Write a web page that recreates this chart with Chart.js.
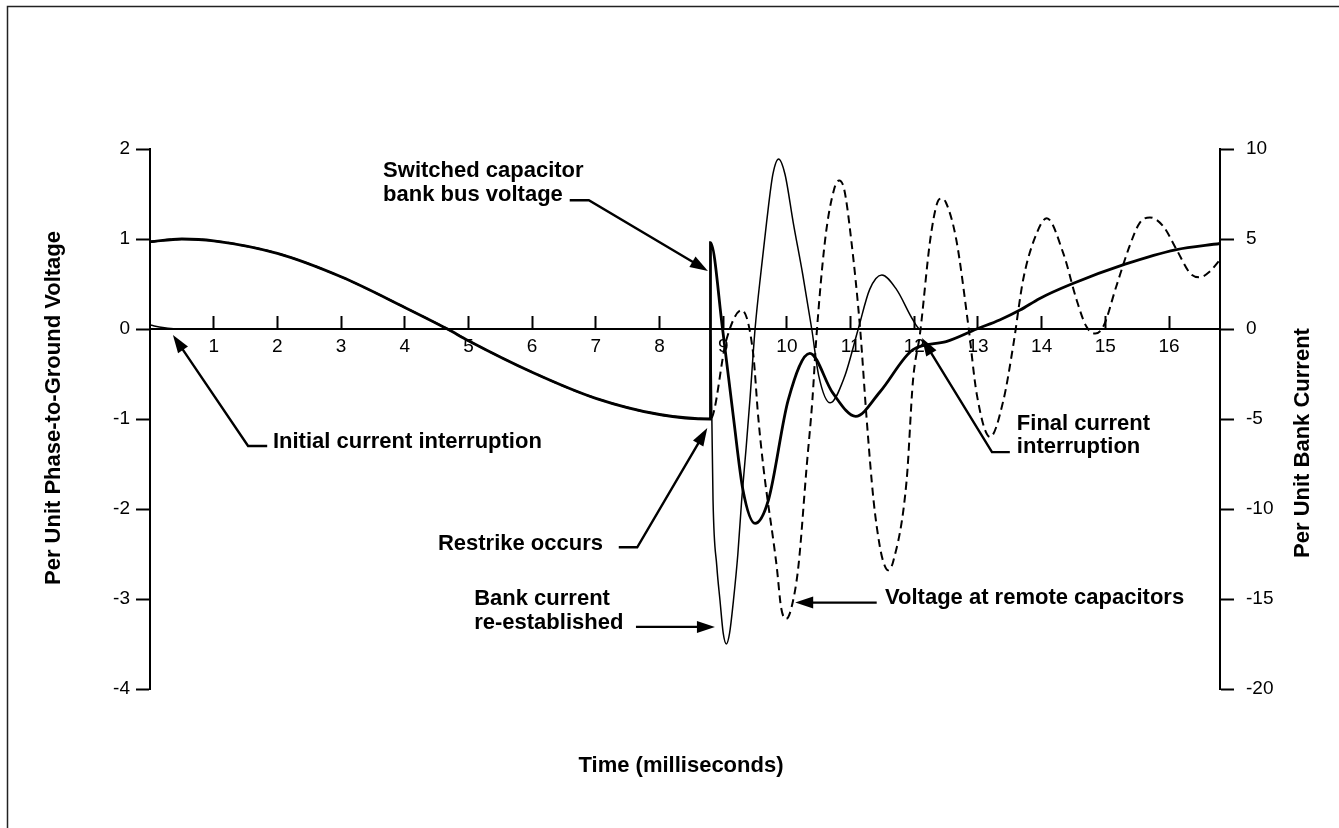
<!DOCTYPE html>
<html>
<head>
<meta charset="utf-8">
<title>Restrike</title>
<script src="https://cdn.jsdelivr.net/npm/chart.js@4.4.1/dist/chart.umd.min.js"></script>
<style>
    html, body { margin: 0; padding: 0; background: #fff; }
    #contenedor { width: 1339px; height: 828px; }
</style>
</head>
<body>
<div id="contenedor"><canvas id="graficoRestrike" width="1339" height="828"></canvas></div>
<script>
// tiempo en ms, tension en por unidad (eje izquierdo)
const tiempoBarra = [0, 0.5, 1, 2, 3, 4, 4.67, 5, 6, 7, 8, 8.8, 8.8, 8.99, 9.16, 9.31, 9.5, 9.71, 10.02, 10.36, 10.72, 11.08, 11.46, 11.98, 12.5, 12.98, 13.34, 13.66, 13.97, 14.47, 15.31, 16.1, 16.8];
const tensionBarra = [0.97, 1.0, 0.98, 0.84, 0.58, 0.24, 0, -0.13, -0.48, -0.77, -0.95, -1.0, 0.96, 0.0, -0.98, -1.79, -2.16, -1.90, -0.79, -0.27, -0.71, -0.97, -0.70, -0.23, -0.14, 0.0, 0.10, 0.21, 0.34, 0.50, 0.72, 0.88, 0.95];

// corriente del banco en por unidad (eje derecho)
const tiempoCorriente = [0, 0.2, 0.4, 8.8, 8.82, 8.84, 8.9, 8.95, 9.0, 9.05, 9.1, 9.16, 9.23, 9.29, 9.36, 9.42, 9.5, 9.6, 9.68, 9.78, 9.87, 9.97, 10.1, 10.25, 10.39, 10.5, 10.68, 10.9, 11.12, 11.3, 11.49, 11.72, 11.98, 12.09, 16.8];
const corrienteBanco = [0.22, 0.08, 0, 0, -4.5, -9.5, -13.2, -15.1, -16.9, -17.5, -16.9, -15.1, -12.5, -9.5, -6.6, -3.9, 0, 3.4, 5.9, 8.6, 9.45, 8.6, 5.9, 3.0, 0, -2.6, -4.1, -2.7, 0, 2.2, 3.0, 2.2, 0.5, 0, 0];

// tension en los capacitores remotos (eje izquierdo)
const tiempoRemoto = [0, 0.5, 1, 2, 3, 4, 4.67, 5, 6, 7, 8, 8.8, 9.05, 9.29, 9.47, 9.55, 9.63, 9.84, 9.91, 9.99, 10.07, 10.18, 10.31, 10.40, 10.46, 10.6, 10.74, 10.82, 10.9, 11.01, 11.15, 11.25, 11.36, 11.46, 11.52, 11.59, 11.67, 11.88, 11.98, 12.09, 12.25, 12.36, 12.43, 12.5, 12.66, 12.85, 12.98, 13.19, 13.4, 13.55, 13.71, 13.92, 14.08, 14.34, 14.55, 14.7, 14.84, 14.97, 15.17, 15.38, 15.54, 15.70, 15.91, 16.12, 16.33, 16.48, 16.64, 16.8];
const tensionRemota = [0.97, 1.0, 0.98, 0.84, 0.58, 0.24, 0, -0.13, -0.48, -0.77, -0.95, -1.0, -0.12, 0.21, -0.27, -0.98, -1.53, -2.64, -3.1, -3.22, -3.1, -2.64, -1.53, -0.79, -0.12, 0.99, 1.55, 1.65, 1.55, 0.99, 0, -0.98, -1.9, -2.42, -2.6, -2.68, -2.58, -1.68, -0.57, -0.05, 0.99, 1.4, 1.45, 1.4, 0.99, 0.03, -0.72, -1.2, -0.79, -0.2, 0.55, 1.06, 1.23, 0.84, 0.32, 0.03, -0.05, 0.03, 0.47, 0.92, 1.18, 1.24, 1.14, 0.88, 0.62, 0.575, 0.64, 0.77];

const marcasTiempo = [1, 2, 3, 4, 5, 6, 7, 8, 9, 10, 11, 12, 13, 14, 15, 16];
const marcasTension = [-4, -3, -2, -1, 0, 1, 2];
const marcasCorriente = [-20, -15, -10, -5, 0, 5, 10];

// textos con flecha, en unidades de los ejes (tiempo, tension)
const notas = [
    { x: 3.66, lineas: [['Switched capacitor', 1.69], ['bank bus voltage', 1.424]], ruta: [[6.59, 1.43], [6.89, 1.43], [8.76, 0.645]] },
    { x: 1.93, lineas: [['Initial current interruption', -1.324]], ruta: [[1.84, -1.30], [1.54, -1.30], [0.36, -0.067]] },
    { x: 4.52, lineas: [['Restrike occurs', -2.45]], ruta: [[7.36, -2.425], [7.65, -2.425], [8.75, -1.10]] },
    { x: 5.09, lineas: [['Bank current', -3.07], ['re-established', -3.337]], ruta: [[7.63, -3.31], [8.87, -3.31]] },
    { x: 11.54, lineas: [['Voltage at remote capacitors', -3.06]], ruta: [[11.41, -3.04], [10.13, -3.04]] },
    { x: 13.61, lineas: [['Final current', -1.123], ['interruption', -1.379]], ruta: [[13.50, -1.368], [13.22, -1.368], [12.12, -0.10]] }
];

const fuente = '"Liberation Sans", Arial, Helvetica, sans-serif';

function puntos(xs, ys) {
    return xs.map(function (t, i) { return { x: t, y: ys[i] }; });
}

function flecha(ctx, pts) {
    const n = pts.length;
    const x2 = pts[n - 1][0], y2 = pts[n - 1][1];
    const x1 = pts[n - 2][0], y1 = pts[n - 2][1];
    const ang = Math.atan2(y2 - y1, x2 - x1);
    const largo = 18, ancho = 6;
    const bx = x2 - largo * Math.cos(ang);
    const by = y2 - largo * Math.sin(ang);

    ctx.lineWidth = 2.4;
    ctx.beginPath();
    ctx.moveTo(pts[0][0], pts[0][1]);
    for (let i = 1; i < n - 1; i++) {
        ctx.lineTo(pts[i][0], pts[i][1]);
    }
    ctx.lineTo(bx + 4 * Math.cos(ang), by + 4 * Math.sin(ang));
    ctx.stroke();

    ctx.beginPath();
    ctx.moveTo(x2, y2);
    ctx.lineTo(bx + ancho * Math.sin(ang), by - ancho * Math.cos(ang));
    ctx.lineTo(bx - ancho * Math.sin(ang), by + ancho * Math.cos(ang));
    ctx.closePath();
    ctx.fill();
}

const extras = {
    id: 'extras',
    beforeDraw: function (chart) {
        const ctx = chart.ctx;
        ctx.save();
        ctx.fillStyle = '#fff';
        ctx.fillRect(0, 0, chart.width, chart.height);
        // marco de la figura
        ctx.strokeStyle = '#222';
        ctx.lineWidth = 1.5;
        ctx.beginPath();
        ctx.moveTo(7.5, chart.height);
        ctx.lineTo(7.5, 6.5);
        ctx.lineTo(chart.width, 6.5);
        ctx.stroke();
        ctx.restore();
    },
    afterDraw: function (chart) {
        const ctx = chart.ctx;
        const sx = chart.scales.x;
        const sy = chart.scales.y;
        const px = function (t) { return sx.getPixelForValue(t); };
        const py = function (v) { return sy.getPixelForValue(v); };

        ctx.save();
        ctx.fillStyle = '#000';
        ctx.strokeStyle = '#000';
        ctx.font = 'bold 22px ' + fuente;
        ctx.textBaseline = 'alphabetic';
        ctx.textAlign = 'left';

        notas.forEach(function (n) {
            n.lineas.forEach(function (l) {
                ctx.fillText(l[0], px(n.x), py(l[1]));
            });
            flecha(ctx, n.ruta.map(function (p) { return [px(p[0]), py(p[1])]; }));
        });

        // titulos de los ejes
        ctx.textAlign = 'center';
        ctx.save();
        ctx.translate(60, 408);
        ctx.rotate(-Math.PI / 2);
        ctx.fillText('Per Unit Phase-to-Ground Voltage', 0, 0);
        ctx.restore();

        ctx.save();
        ctx.translate(1309, 443);
        ctx.rotate(-Math.PI / 2);
        ctx.fillText('Per Unit Bank Current', 0, 0);
        ctx.restore();

        ctx.fillText('Time (milliseconds)', 681, 772);
        ctx.restore();
    }
};

window.addEventListener('load', function () {
    const ctxRestrike = document.getElementById('graficoRestrike');
    if (!ctxRestrike || typeof Chart === 'undefined') {
        return;
    }

    Chart.defaults.font.family = fuente;
    Chart.defaults.color = '#000';

    new Chart(ctxRestrike, {
        type: 'line',
        data: {
            datasets: [{
                label: 'Switched capacitor bank bus voltage',
                data: puntos(tiempoBarra, tensionBarra),
                yAxisID: 'y',
                borderColor: '#000',
                borderWidth: 2.8
            }, {
                label: 'Bank current',
                data: puntos(tiempoCorriente, corrienteBanco),
                yAxisID: 'y1',
                borderColor: '#000',
                borderWidth: 1.5
            }, {
                label: 'Voltage at remote capacitors',
                data: puntos(tiempoRemoto, tensionRemota),
                yAxisID: 'y',
                borderColor: '#000',
                borderWidth: 2,
                borderDash: [8, 5]
            }]
        },
        options: {
            responsive: false,
            animation: false,
            devicePixelRatio: 1,
            layout: {
                padding: { top: 149, bottom: 139, left: 0, right: 0 }
            },
            elements: {
                point: { radius: 0 },
                line: { cubicInterpolationMode: 'monotone', fill: false }
            },
            plugins: {
                legend: { display: false },
                tooltip: { enabled: false }
            },
            scales: {
                x: {
                    type: 'linear',
                    min: 0,
                    max: 16.8,
                    position: { y: 0 },
                    afterBuildTicks: function (s) {
                        s.ticks = marcasTiempo.map(function (v) { return { value: v }; });
                    },
                    grid: { drawOnChartArea: false, drawTicks: true, tickLength: -14, tickWidth: 2, color: '#000' },
                    border: { display: true, color: '#000', width: 2 },
                    ticks: { padding: 20, color: '#000', font: { size: 19 }, maxRotation: 0, autoSkip: false }
                },
                y: {
                    type: 'linear',
                    position: 'left',
                    min: -4,
                    max: 2,
                    afterBuildTicks: function (s) {
                        s.ticks = marcasTension.map(function (v) { return { value: v }; });
                    },
                    afterFit: function (s) { s.width = 150; },
                    grid: { drawOnChartArea: false, drawTicks: true, tickLength: 14, tickWidth: 2, color: '#000' },
                    border: { display: true, color: '#000', width: 2 },
                    ticks: { padding: 6, color: '#000', font: { size: 19 } }
                },
                y1: {
                    type: 'linear',
                    position: 'right',
                    min: -20,
                    max: 10,
                    afterBuildTicks: function (s) {
                        s.ticks = marcasCorriente.map(function (v) { return { value: v }; });
                    },
                    afterFit: function (s) { s.width = 119; },
                    grid: { drawOnChartArea: false, drawTicks: true, tickLength: 14, tickWidth: 2, color: '#000' },
                    border: { display: true, color: '#000', width: 2 },
                    ticks: { padding: 12, color: '#000', font: { size: 19 } }
                }
            }
        },
        plugins: [extras]
    });
});
</script>
</body>
</html>
